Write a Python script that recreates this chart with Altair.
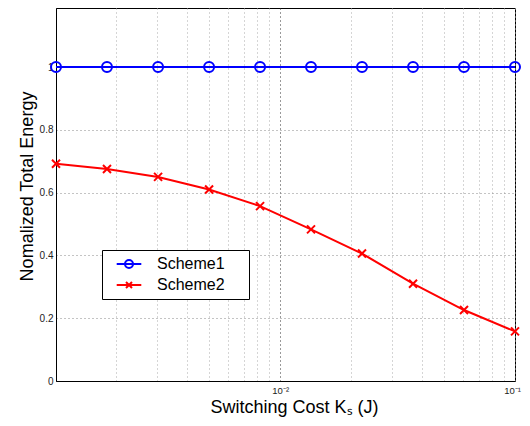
import altair as alt
import pandas as pd

# Data
ks = [0.00111, 0.00183, 0.00302, 0.00498, 0.00821, 0.01353, 0.02231, 0.03679, 0.06065, 0.1]
scheme1 = [1.0, 1.0, 1.0, 1.0, 1.0, 1.0, 1.0, 1.0, 1.0, 1.0]
scheme2 = [0.692, 0.675, 0.650, 0.610, 0.557, 0.483, 0.406, 0.310, 0.226, 0.158]
series_names = ["Scheme1", "Scheme2"]
series_colors = ["#0000ff", "#ff0000"]

x_grid_values = [0.002, 0.003, 0.004, 0.005, 0.006, 0.007, 0.008, 0.009,
                 0.01, 0.02, 0.03, 0.04, 0.05, 0.06, 0.07, 0.08, 0.09, 0.1]
y_tick_values = [0, 0.2, 0.4, 0.6, 0.8, 1]

df = pd.DataFrame({
    "ks": ks + ks,
    "energy": scheme1 + scheme2,
    "series": [series_names[0]] * len(ks) + [series_names[1]] * len(ks),
})

FONT = "Liberation Sans"

x_enc = alt.X(
    "ks:Q",
    scale=alt.Scale(type="log", domain=[ks[0], ks[-1]], nice=False),
    axis=alt.Axis(
        values=x_grid_values,
        labelExpr="abs(datum.value - 0.01) < 1e-9 ? '10⁻²' : (abs(datum.value - 0.1) < 1e-9 ? '10⁻¹' : '')",
        labelFlush=False,
        labelOverlap=False,
        labelFontSize=9.5,
        labelPadding=4,
        labelOffset={"condition": {"test": "datum.value > 0.05", "value": -3}, "value": 0},
        ticks=False,
        grid=True,
        gridDash=[1, 3],
        gridColor={"condition": {"test": "abs(datum.value - 0.01) < 1e-9", "value": "#333333"},
                   "value": "#aaaaaa"},
        title="Switching Cost Kₛ (J)",
        titleFontSize=18,
        titleFontWeight="normal",
        titleBaseline="alphabetic",
        titleAlign="center",
        titleX=238,
        titleY=31,
    ),
)
y_enc = alt.Y(
    "energy:Q",
    scale=alt.Scale(domain=[0, 1.188], nice=False, zero=True),
    axis=alt.Axis(
        values=y_tick_values,
        format="~g",
        labelFontSize=10,
        labelPadding=3,
        ticks=False,
        grid=True,
        gridDash=[1, 3],
        gridColor="#888888",
        title="Nomalized Total Energy",
        titleFontSize=18,
        titleFontWeight="normal",
        titleBaseline="alphabetic",
        titleAlign="center",
        titleAngle=270,
        titleX=-24,
        titleY=178,
    ),
)

base = alt.Chart(df)

circle_path = "M-1,0A1,1,0,1,1,1,0A1,1,0,1,1,-1,0Z"
x_path = "M-1,-1L1,1M-1,1L1,-1"
marker_shapes = [circle_path, x_path]
marker_sizes = [100, 64]

layers = []
for name, col, shp, sz in zip(series_names, series_colors, marker_shapes, marker_sizes):
    sub = base.transform_filter(alt.datum.series == name)
    layers.append(sub.mark_line(color=col, strokeWidth=2).encode(x=x_enc, y=y_enc))
    layers.append(
        sub.mark_point(shape=shp, filled=False, color=col, size=sz, strokeWidth=2, opacity=1)
        .encode(x=x_enc, y=y_enc)
    )

# legend-only layer (points fall outside the y domain and are clipped)
leg_circle = "M-2.46,0L2.46,0M-0.8,0A0.8,0.8,0,1,1,0.8,0A0.8,0.8,0,1,1,-0.8,0"
leg_x = "M-2.46,0L2.46,0M-0.6,-0.6L0.6,0.6M-0.6,0.6L0.6,-0.6"
leg_label_expr = "datum.label + '\u00a0\u00a0\u00a0\u00a0\u200b'"
legend_layer = (
    base.transform_calculate(hidden="-1")
    .mark_point(filled=False, strokeWidth=2, size=169, clip=True, opacity=1)
    .encode(
        x=x_enc,
        y=alt.Y("hidden:Q"),
        color=alt.Color("series:N", scale=alt.Scale(domain=series_names, range=series_colors),
                        legend=alt.Legend(title=None, labelExpr=leg_label_expr)),
        shape=alt.Shape("series:N", scale=alt.Scale(domain=series_names, range=[leg_circle, leg_x]),
                        legend=alt.Legend(title=None, labelExpr=leg_label_expr)),
    )
)
layers.append(legend_layer)

chart = (
    alt.layer(*layers)
    .properties(
        width=459,
        height=373,
        autosize=alt.AutoSizeParams(type="none"),
        padding={"left": 48, "top": 0, "right": 7, "bottom": 37},
    )
    .configure(font=FONT)
    .configure_view(stroke="black", strokeWidth=1)
    .configure_axis(domainColor="black", domainWidth=1, labelColor="#222222",
                    labelFont=FONT, titleFont=FONT, titleColor="black")
    .configure_legend(
        orient="none",
        legendX=46,
        legendY=242,
        fillColor="white",
        strokeColor="black",
        padding=6,
        rowPadding=5,
        labelFontSize=16,
        labelFont=FONT,
        labelColor="black",
        symbolStrokeWidth=2,
        symbolOffset=13,
        labelOffset=20,
    )
)

chart.save("out.html", embed_options={"renderer": "svg", "actions": False})
